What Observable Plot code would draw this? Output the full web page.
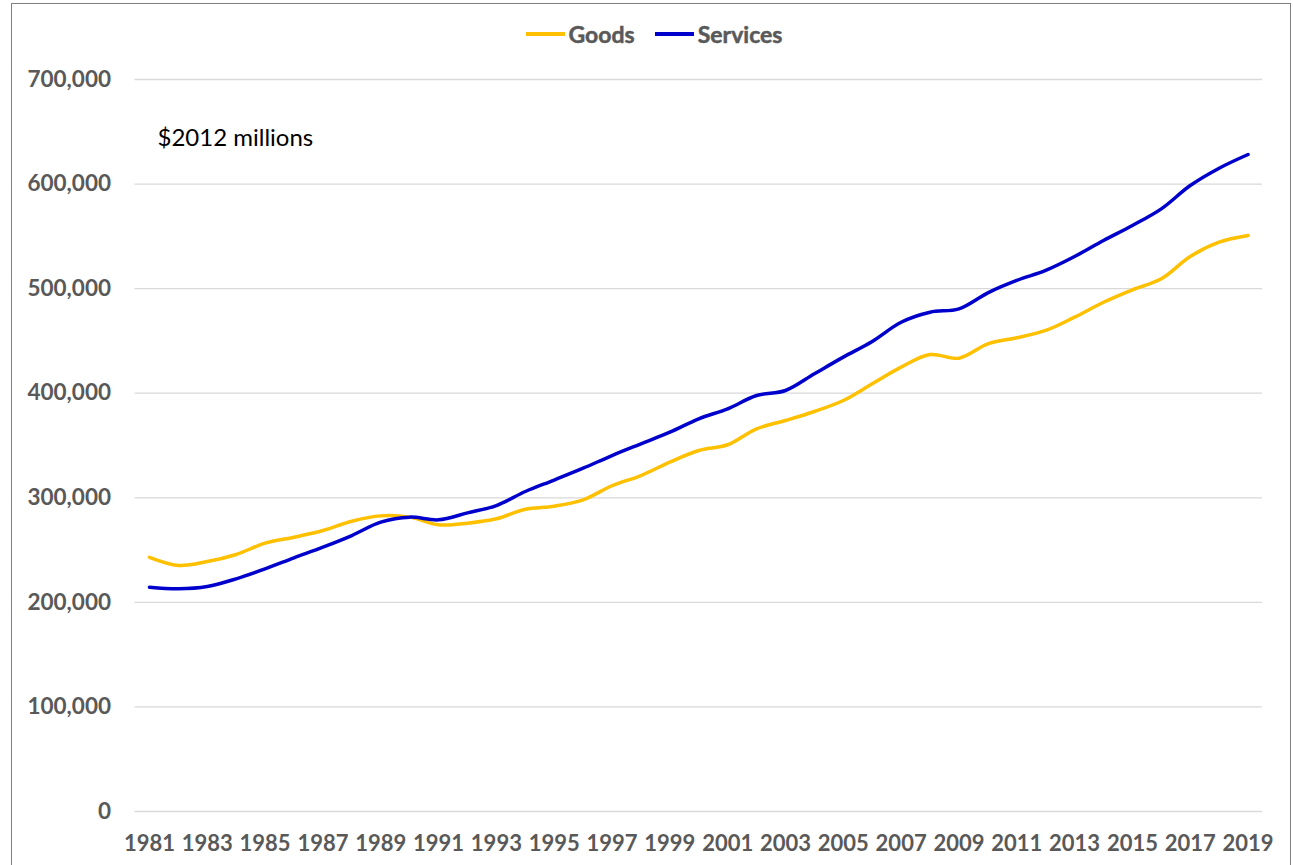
<!DOCTYPE html>
<html>
<head>
<meta charset="utf-8">
<script src="https://cdn.jsdelivr.net/npm/d3@7"></script>
<script src="https://cdn.jsdelivr.net/npm/@observablehq/plot@0.6"></script>
<style>
  html, body { margin: 0; padding: 0; background: #fff; overflow: hidden; }
  body { width: 1293px; height: 865px; position: relative; font-family: Lato, "Open Sans", sans-serif; }
  #frame { position: absolute; left: 11px; top: 3px; width: 1280px; height: 900px; border: 1.5px solid #808080; box-sizing: border-box; pointer-events: none; }
  #legend { position: absolute; left: 0; top: 0; width: 1293px; height: 60px; padding-left: 15px; box-sizing: border-box;
            display: flex; justify-content: center; align-items: center; padding-top: 8px;
            font-weight: bold; font-size: 23px; color: #595959; -webkit-text-stroke: 0.5px #595959; }
  .item { display: flex; align-items: center; margin: 0 10px; }
  .sw { width: 39px; height: 3.5px; margin-right: 4px; }
  #chart { position: absolute; left: 0; top: 60px; }
</style>
</head>
<body>
<div id="legend"></div>
<div id="chart"></div>
<div id="frame"></div>
<script>
const years = d3.range(1981, 2020);
const goods = [
  243000, 235300, 239000, 245800, 256600, 262300, 268700, 277600, 282700, 281500,
  274200, 275700, 279900, 289000, 292000, 298000, 311500, 321300, 334100, 345200,
  350700, 366000, 373900, 382500, 393000, 409000, 424900, 437000, 433500, 447200,
  453000, 460000, 472700, 487000, 498900, 509400, 530700, 544400, 550800
];
const services = [
  214500, 213000, 215200, 222500, 232100, 242600, 252800, 263900, 276700, 281500,
  278900, 285600, 292600, 306000, 317000, 328300, 340400, 351600, 362700, 375500,
  385100, 397800, 402600, 418600, 434500, 449500, 467900, 477500, 480700, 496000,
  507800, 517400, 530700, 546000, 560400, 576300, 598600, 615200, 628300
];
const seriesNames = ["Goods", "Services"];
const seriesColors = ["#FFC000", "#0000CC"];
const yTicks = [0, 100000, 200000, 300000, 400000, 500000, 600000, 700000];
const xTicks = d3.range(1981, 2020, 2);
const unitNote = "$2012 millions";

// legend
const legend = document.getElementById("legend");
seriesNames.forEach((name, i) => {
  const it = document.createElement("div");
  it.className = "item";
  const sw = document.createElement("div");
  sw.className = "sw";
  sw.style.background = seriesColors[i];
  const t = document.createElement("span");
  t.textContent = name;
  it.appendChild(sw); it.appendChild(t);
  legend.appendChild(it);
});

const plot = Plot.plot({
  width: 1293,
  height: 805,
  marginTop: 19,
  marginBottom: 54,
  marginLeft: 134.5,
  marginRight: 31,
  style: { fontFamily: "Lato, 'Open Sans', sans-serif", color: "#595959", background: "transparent", overflow: "visible" },
  x: { type: "linear", domain: [1980.5, 2019.5] },
  y: { domain: [0, 700000] },
  marks: [
    Plot.gridY(yTicks, { stroke: "#D9D9D9", strokeOpacity: 1, strokeWidth: 1.3 }),
    Plot.axisY({ ticks: yTicks, tickFormat: d3.format(","), tickSize: 0, tickPadding: 24, fontSize: 22.5, fontWeight: "bold", stroke: "#595959", strokeWidth: 0.5, label: null }),
    Plot.axisX({ ticks: xTicks, tickFormat: d => String(d), tickSize: 0, tickPadding: 24, fontSize: 22, fontWeight: "bold", stroke: "#595959", strokeWidth: 0.5, label: null }),
    Plot.line(years, { x: years, y: goods, stroke: seriesColors[0], strokeWidth: 3.5, curve: "catmull-rom" }),
    Plot.line(years, { x: years, y: services, stroke: seriesColors[1], strokeWidth: 3.5, curve: "catmull-rom" }),
    Plot.text([unitNote], { frameAnchor: "top-left", dx: 22.5, dy: 59, textAnchor: "start", lineAnchor: "middle", fontSize: 24, fill: "#000", fontWeight: "normal" })
  ]
});
document.getElementById("chart").appendChild(plot);
</script>
</body>
</html>
